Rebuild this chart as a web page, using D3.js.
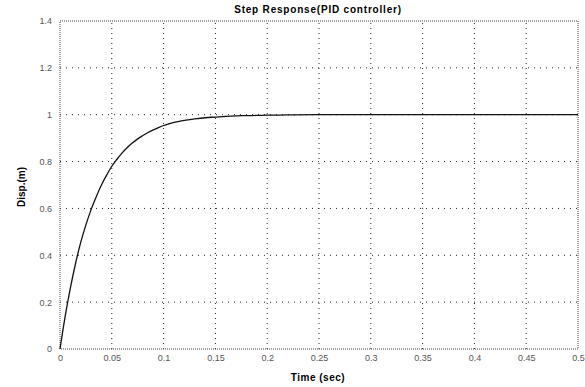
<!DOCTYPE html>
<html lang="en">
<head>
	<meta charset="UTF-8">
	<title>Step Response</title>
	<style type="text/css">
		body { margin: 0; background: #fff; }
		svg text { font-family: "Liberation Sans", Arial, sans-serif; }
	</style>
</head>
<body>
	<script type="text/javascript" src="https://cdn.jsdelivr.net/npm/d3@7/dist/d3.min.js"></script>
	<script type="text/javascript">
		var timeVals = [0, 0.0025, 0.005, 0.0075, 0.01, 0.015, 0.02, 0.025, 0.03, 0.035, 0.04, 0.045, 0.05, 0.055, 0.06, 0.065, 0.07, 0.075, 0.08, 0.085, 0.09, 0.095, 0.1, 0.105, 0.11, 0.115, 0.12, 0.13, 0.14, 0.15, 0.16, 0.17, 0.18, 0.19, 0.2, 0.22, 0.25, 0.3, 0.35, 0.4, 0.45, 0.5];
		var dispVals = [0, 0.072, 0.14, 0.202, 0.26, 0.365, 0.455, 0.53, 0.595, 0.65, 0.70, 0.742, 0.78, 0.81, 0.837, 0.86, 0.88, 0.897, 0.911, 0.924, 0.935, 0.945, 0.954, 0.961, 0.967, 0.972, 0.976, 0.982, 0.987, 0.990, 0.993, 0.995, 0.996, 0.997, 0.998, 0.999, 1.0, 1.0, 1.0, 1.0, 1.0, 1.0];
		var xTicks = [0, 0.05, 0.1, 0.15, 0.2, 0.25, 0.3, 0.35, 0.4, 0.45, 0.5];
		var yTicks = [0, 0.2, 0.4, 0.6, 0.8, 1, 1.2, 1.4];

		var w = 585;
		var h = 387;
		var margin = {top: 21, right: 7, bottom: 38, left: 60};

		var svg = d3.select('body')
					.append('svg')
					.attr('width', w)
					.attr('height', h);

		var x = d3.scaleLinear().domain([0, 0.5]).range([margin.left, w - margin.right]);
		var y = d3.scaleLinear().domain([0, 1.4]).range([h - margin.bottom, margin.top]);

		// grid
		svg.append('g')
			.selectAll('line')
			.data(xTicks.slice(1, -1))
			.enter()
			.append('line')
			.attr('x1', function (d) { return x(d); })
			.attr('x2', function (d) { return x(d); })
			.attr('y1', y(0))
			.attr('y2', y(1.4))
			.attr('stroke', '#222')
			.attr('stroke-width', 1)
			.attr('stroke-dasharray', '1,4');

		svg.append('g')
			.selectAll('line')
			.data(yTicks.slice(1, -1))
			.enter()
			.append('line')
			.attr('x1', x(0))
			.attr('x2', x(0.5))
			.attr('y1', function (d) { return y(d); })
			.attr('y2', function (d) { return y(d); })
			.attr('stroke', '#222')
			.attr('stroke-width', 1)
			.attr('stroke-dasharray', '1,5');

		// box
		svg.append('rect')
			.attr('x', x(0))
			.attr('y', y(1.4))
			.attr('width', x(0.5) - x(0))
			.attr('height', y(0) - y(1.4))
			.attr('fill', 'none')
			.attr('stroke', '#444')
			.attr('stroke-width', 1)
			.attr('stroke-dasharray', '1,1');

		// axes
		var xAxis = d3.axisBottom(x)
					.tickValues(xTicks)
					.tickSize(0)
					.tickPadding(6)
					.tickFormat(function (d) { return String(+d.toFixed(2)); });
		svg.append('g')
			.attr('transform', 'translate(0,' + y(0) + ')')
			.call(xAxis)
			.call(function (g) { g.select('.domain').remove(); })
			.selectAll('text')
			.attr('font-size', '9px')
			.attr('fill', '#555');

		var yAxis = d3.axisLeft(y)
					.tickValues(yTicks)
					.tickSize(0)
					.tickPadding(8)
					.tickFormat(function (d) { return String(+d.toFixed(1)); });
		svg.append('g')
			.attr('transform', 'translate(' + x(0) + ',0)')
			.call(yAxis)
			.call(function (g) { g.select('.domain').remove(); })
			.selectAll('text')
			.attr('font-size', '9px')
			.attr('fill', '#555');

		// curve
		var line = d3.line()
					.x(function (d) { return x(d[0]); })
					.y(function (d) { return y(d[1]); })
					.curve(d3.curveMonotoneX);

		svg.append('path')
			.datum(d3.zip(timeVals, dispVals))
			.attr('d', line)
			.attr('fill', 'none')
			.attr('stroke', '#111')
			.attr('stroke-width', 1.3);

		// labels
		svg.append('text')
			.attr('x', 318)
			.attr('y', 13)
			.attr('text-anchor', 'middle')
			.attr('font-size', '10px')
			.attr('font-weight', 'bold')
			.attr('letter-spacing', '0.8px')
			.text('Step Response(PID controller)');

		svg.append('text')
			.attr('x', 318)
			.attr('y', 381)
			.attr('text-anchor', 'middle')
			.attr('font-size', '10px')
			.attr('font-weight', 'bold')
			.attr('letter-spacing', '0.5px')
			.text('Time (sec)');

		svg.append('text')
			.attr('transform', 'translate(25,187) rotate(-90)')
			.attr('text-anchor', 'middle')
			.attr('font-size', '10px')
			.attr('font-weight', 'bold')
			.text('Disp.(m)');
	</script>
</body>
</html>
